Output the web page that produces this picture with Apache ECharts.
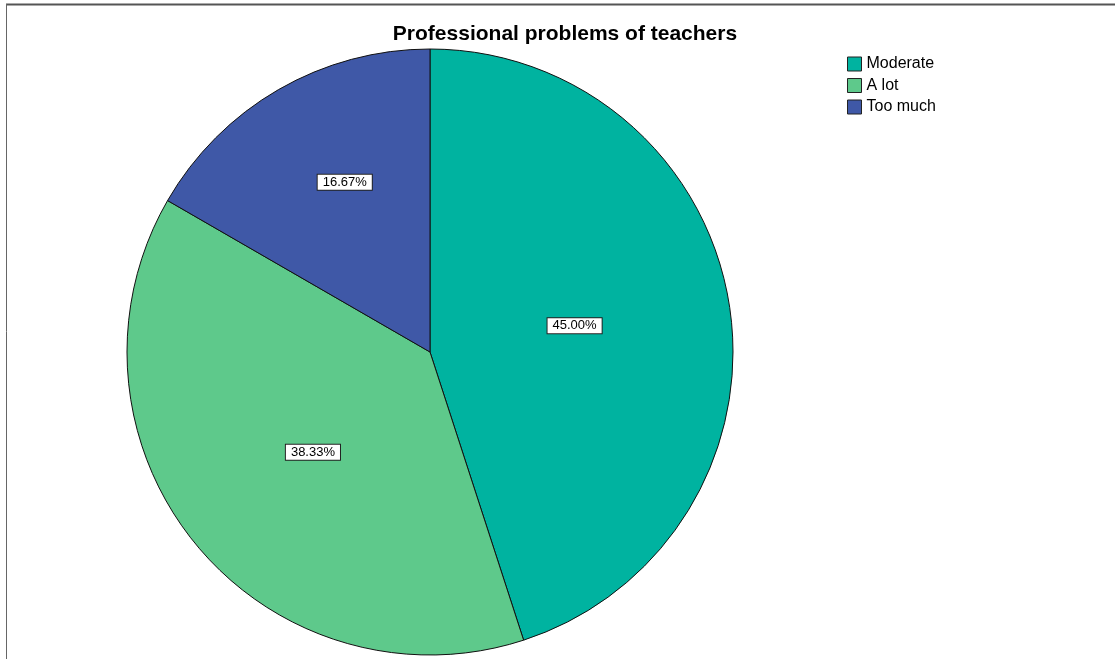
<!DOCTYPE html>
<html><head><meta charset="utf-8">
<script src="https://cdn.jsdelivr.net/npm/echarts@6/dist/echarts.min.js"></script>
<style>html,body{margin:0;padding:0;background:#fff}#c{width:1115px;height:659px}</style>
</head><body><div id="c"></div>
<script>
const categories = ["Moderate", "A lot", "Too much"];
const percentages = [45.00, 38.33, 16.67];
const colors = ["#00b3a0", "#5ec98b", "#3f58a7"];
const titleText = "Professional problems of teachers";

const chart = echarts.init(document.getElementById('c'), null, {renderer: 'canvas'});
const labelShift = [[-8, -2], [3, 3], [-8, -36]];
chart.setOption({
  animation: false,
  backgroundColor: '#fff',
  textStyle: {fontFamily: 'Liberation Sans, Arial, sans-serif'},
  title: {
    text: titleText, left: 560, top: 19, textAlign: 'center',
    textStyle: {fontSize: 21, fontWeight: 'bold', color: '#000', fontFamily: 'Liberation Sans, Arial, sans-serif'}
  },
  legend: {
    orient: 'vertical', left: 842, top: 51,
    itemWidth: 14, itemHeight: 14, itemGap: 5.5,
    icon: 'rect',
    itemStyle: {borderColor: '#222', borderWidth: 1},
    textStyle: {fontSize: 16, color: '#000', lineHeight: 14},
    data: categories
  },
  graphic: [
    {type: 'line', shape: {x1: 6, y1: 4.5, x2: 1115, y2: 4.5}, style: {stroke: '#555', lineWidth: 2}},
    {type: 'line', shape: {x1: 6.5, y1: 4, x2: 6.5, y2: 659}, style: {stroke: '#666', lineWidth: 1}}
  ],
  series: [{
    type: 'pie',
    center: [430, 352],
    radius: [0, 303],
    startAngle: 90,
    clockwise: true,
    silent: true,
    data: categories.map((c, i) => ({name: c, value: percentages[i], itemStyle: {color: colors[i]}})),
    itemStyle: {borderColor: '#111', borderWidth: 1},
    label: {
      show: true, position: 'inside',
      formatter: p => p.value.toFixed(2) + '%',
      color: '#000', fontSize: 13,
      backgroundColor: '#fff', borderColor: '#222', borderWidth: 1,
      padding: [2, 5, 0, 5]
    },
    labelLine: {show: false},
    labelLayout: p => ({dx: labelShift[p.dataIndex][0], dy: labelShift[p.dataIndex][1]})
  }]
});
</script></body></html>
